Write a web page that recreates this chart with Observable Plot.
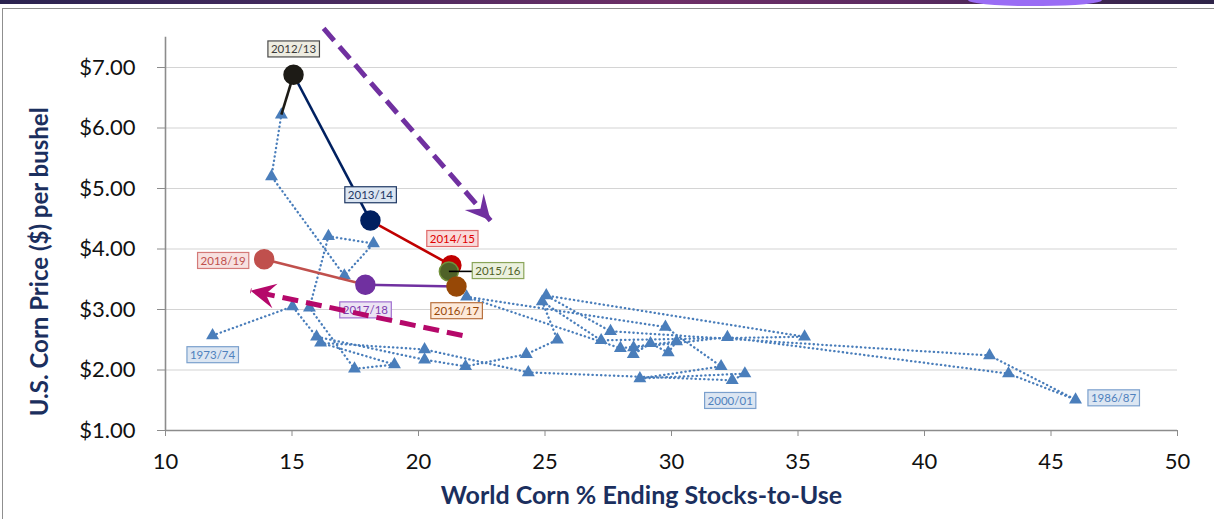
<!DOCTYPE html>
<html><head><meta charset="utf-8">
<script src="https://cdn.jsdelivr.net/npm/d3@7"></script>
<script src="https://cdn.jsdelivr.net/npm/@observablehq/plot@0.6"></script>
<style>
html,body{margin:0;padding:0;background:#fff;}
#wrap{position:relative;width:1214px;height:519px;overflow:hidden;font-family:Lato,"Open Sans",sans-serif;}
#band{position:absolute;left:0;top:0;width:1214px;height:4px;background:linear-gradient(90deg,#2b2350 0%,#452a5e 25%,#6e2f67 55%,#5a2a60 75%,#2e2448 100%);}
#blob{position:absolute;left:968px;top:0;width:134px;height:6px;background:#9a6cf5;border-radius:0 0 60px 60px / 0 0 6px 6px;}
#frame{position:absolute;left:2px;top:8px;width:1240px;height:540px;border-top:1.5px solid #8f8f8f;border-left:1.5px solid #8f8f8f;}
#wrap svg{position:absolute;left:0;top:0;}
</style></head>
<body><div id="wrap"><div id="band"></div><div id="blob"></div><div id="frame"></div></div>
<script>
// ---- data ----
const seasons = ["1973/74","1974/75","1975/76","1976/77","1977/78","1978/79","1979/80","1980/81","1981/82","1982/83",
  "1983/84","1984/85","1985/86","1986/87","1987/88","1988/89","1989/90","1990/91","1991/92","1992/93",
  "1993/94","1994/95","1995/96","1996/97","1997/98","1998/99","1999/00","2000/01","2001/02","2002/03",
  "2003/04","2004/05","2005/06","2006/07","2007/08","2008/09","2009/10","2010/11","2011/12"];
const stocksToUse = [11.86,15.02,15.97,20.24,21.86,24.26,25.49,24.89,27.22,35.26,
  25.05,27.59,42.57,45.97,43.32,32.21,28.5,28.49,29.17,29.87,
  30.20,27.98,21.90,29.76,31.96,28.75,32.90,32.40,24.34,20.24,
  16.13,19.05,17.47,15.69,16.44,18.22,17.07,14.19,14.58];
const prices = [2.57,3.05,2.55,2.17,2.06,2.26,2.50,3.13,2.49,2.55,
  3.23,2.64,2.24,1.51,1.94,2.54,2.37,2.26,2.44,2.29,
  2.47,2.36,3.21,2.71,2.06,1.86,1.94,1.83,1.96,2.34,
  2.45,2.09,2.02,3.03,4.21,4.09,3.56,5.20,6.22];
const recentSeasons = ["2012/13","2013/14","2014/15","2015/16","2016/17","2017/18","2018/19"];
const recentStocks = [15.06,18.1,21.3,21.2,21.5,17.9,13.9];
const recentPrices = [6.88,4.47,3.73,3.63,3.38,3.41,3.83];
const labeledHistory = ["1973/74","2000/01","1986/87"];
const xTicks = [10,15,20,25,30,35,40,45,50];
const yTicks = [1,2,3,4,5,6,7];
const arrowFromStocks = [16.25,21.74];
const arrowFromPrices = [7.645,2.57];
const arrowToStocks = [22.85,13.36];
const arrowToPrices = [4.47,3.31];

// ---- styles ----
const recentColors = ["#1d1b16","#002060","#c00000","#4f6228","#974806","#7030a0","#c0504d"];
const recentOutline = ["#1d1b16","#002060","#c00000","#71913a","#974806","#7030a0","#c0504d"];
const arrowColors = ["#7030a0","#b5086a"];
const labelStyle = {
  "2012/13":{dx:0,dy:-25,text:"#3b3b3b",bg:"#eeece1",border:"#4a4a4a"},
  "2013/14":{dx:0,dy:-25,text:"#1f3864",bg:"#dce6f2",border:"#1f3864"},
  "2014/15":{dx:1,dy:-26,text:"#e00000",bg:"#f9dada",border:"#e06a6a"},
  "2015/16":{dx:49,dy:0,text:"#4f6228",bg:"#ebf1de",border:"#8aa55a"},
  "2016/17":{dx:0,dy:25,text:"#984807",bg:"#fde9d9",border:"#b8703e"},
  "2017/18":{dx:0,dy:26,text:"#8040b0",bg:"#ece4f4",border:"#a070d0"},
  "2018/19":{dx:-41,dy:2,text:"#c0504d",bg:"#f7e1e0",border:"#d47a78"},
  "1973/74":{dx:0,dy:20,text:"#4f81bd",bg:"#dce6f2",border:"#7ba0cd"},
  "2000/01":{dx:-2,dy:21,text:"#4f81bd",bg:"#dce6f2",border:"#7ba0cd"},
  "1986/87":{dx:38,dy:-1,text:"#4f81bd",bg:"#dce6f2",border:"#7ba0cd"}
};

// ---- layout ----
const W = 1214, H = 519, ML = 165, MR = 37, MT = 36.75, MB = 89;
const xDom = [10,50], yDom = [1,7.5];
const xPx = v => ML + (v - xDom[0]) / (xDom[1]-xDom[0]) * (W - ML - MR);
const yPx = v => MT + (yDom[1] - v) / (yDom[1]-yDom[0]) * (H - MT - MB);
const pxToX = (W - ML - MR) / (xDom[1]-xDom[0]);

const hist = seasons.map((s,i)=>({season:s, x:stocksToUse[i], y:prices[i]}));
const recent = recentSeasons.map((s,i)=>({season:s, x:recentStocks[i], y:recentPrices[i], color:recentColors[i], outline:recentOutline[i]}));
const lastHist = hist[hist.length-1];
const segments = recent.map((d,i)=>{
  const p = i===0 ? lastHist : recent[i-1];
  return {x1:p.x, y1:p.y, x2:d.x, y2:d.y, color:d.color};
});
const arrows = arrowFromStocks.map((_,i)=>({x1:arrowFromStocks[i], y1:arrowFromPrices[i], x2:arrowToStocks[i], y2:arrowToPrices[i], color:arrowColors[i]}));

function stealth(angleDeg, L, Wd, notch){
  const a = angleDeg*Math.PI/180, c = Math.cos(a), s = Math.sin(a);
  const pts = [[0,0],[-L,-Wd],[-notch*L,0],[-L,Wd]];
  return {draw(ctx){
    pts.forEach(([px,py],i)=>{const X=px*c-py*s, Y=px*s+py*c; if(i) ctx.lineTo(X,Y); else ctx.moveTo(X,Y);});
    ctx.closePath();
  }};
}

const labelPoints = [
  ...recent.map(d=>({season:d.season,x:d.x,y:d.y})),
  ...hist.filter(d=>labeledHistory.includes(d.season))
];

const marks = [
  Plot.gridY(yTicks.filter(t=>t>1), {stroke:"#d4d4d4", strokeOpacity:1, strokeWidth:1.2}),
  Plot.ruleX([xDom[0]], {stroke:"#8c8c8c", strokeWidth:1.6}),
  Plot.ruleY([yDom[0]], {stroke:"#8c8c8c", strokeWidth:1.6}),
  Plot.axisY({ticks:yTicks, tickFormat:d=>"$"+d.toFixed(2), tickSize:8, tickPadding:22, fontSize:22, stroke:"#8c8c8c", fill:"#111", label:null}),
  Plot.axisX({ticks:xTicks, tickSize:6, tickPadding:17, fontSize:22, stroke:"#8c8c8c", fill:"#111", label:null}),
  Plot.text(["U.S. Corn Price ($) per bushel"], {frameAnchor:"left", textAnchor:"middle", dx:-125, dy:28, rotate:-90, fontSize:24, fontWeight:"bold", fill:"#1b2f5e"}),
  Plot.text(["World Corn % Ending Stocks-to-Use"], {frameAnchor:"bottom", textAnchor:"middle", dx:-30, dy:73, fontSize:25, fontWeight:"bold", fill:"#1b2f5e"}),
  Plot.line(hist, {x:"x", y:"y", stroke:"#4a7ebb", strokeWidth:2.3, strokeDasharray:"0.3,4", strokeLinecap:"round"}),
  Plot.dot(hist, {x:"x", y:"y", symbol:"triangle", r:4.8, fill:"#4a7ebb"}),
  Plot.link(segments, {x1:"x1", y1:"y1", x2:"x2", y2:"y2", stroke:d=>d.color, strokeWidth:2.6}),
  Plot.dot(recent, {x:"x", y:"y", r:9.5, fill:"color", stroke:"outline", strokeWidth:1.5}),
  Plot.link([recent[3]], {x1:"x", y1:"y", x2:d=>d.x + 24/pxToX, y2:"y", stroke:"#000", strokeWidth:1.6}),
  ...labelPoints.map(d=>{
    const st = labelStyle[d.season];
    return Plot.text([d], {x:"x", y:"y", text:"season", dx:st.dx, dy:st.dy, fontSize:11.5, fill:st.text});
  }),
  Plot.link(arrows, {x1:"x1", y1:"y1", x2:"x2", y2:"y2", stroke:d=>d.color, strokeWidth:5, strokeDasharray:"16,8"}),
  ...arrows.map(a=>{
    const ang = Math.atan2(yPx(a.y2)-yPx(a.y1), xPx(a.x2)-xPx(a.x1))*180/Math.PI;
    return Plot.dot([a], {x:"x2", y:"y2", symbol:stealth(ang,25,12.5,0.62), r:5, fill:a.color, stroke:"none"});
  })
];

const chart = Plot.plot({
  width:W, height:H, marginLeft:ML, marginRight:MR, marginTop:MT, marginBottom:MB,
  x:{domain:xDom}, y:{domain:yDom},
  color:{type:"identity"},
  style:{fontFamily:"Lato, 'Open Sans', sans-serif", background:"transparent", overflow:"visible"},
  marks
});
document.getElementById("wrap").append(chart);

const NS = "http://www.w3.org/2000/svg";
chart.querySelectorAll("text").forEach(t=>{
  const st = labelStyle[t.textContent.trim()];
  if(!st) return;
  const b = t.getBBox();
  const r = document.createElementNS(NS,"rect");
  r.setAttribute("x", b.x-3); r.setAttribute("y", b.y-1.5);
  r.setAttribute("width", b.width+6); r.setAttribute("height", b.height+3);
  r.setAttribute("fill", st.bg); r.setAttribute("stroke", st.border); r.setAttribute("stroke-width", 1.2);
  if(t.getAttribute("transform")) r.setAttribute("transform", t.getAttribute("transform"));
  t.parentNode.insertBefore(r, t);
});
</script>
</body></html>
